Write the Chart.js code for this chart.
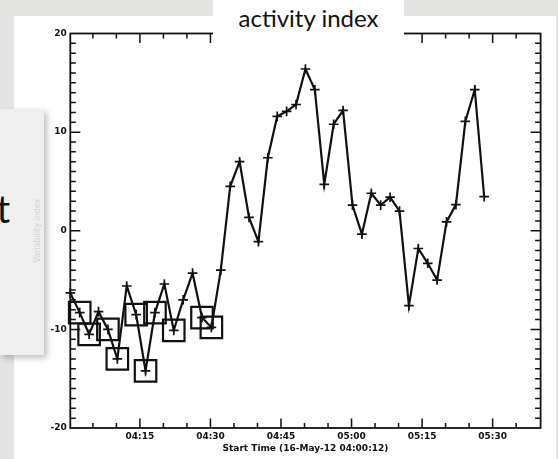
<!DOCTYPE html>
<html>
<head>
<meta charset="utf-8">
<script src="https://cdn.jsdelivr.net/npm/chart.js@4.4.0/dist/chart.umd.min.js"></script>
<style>
  html, body { margin: 0; padding: 0; }
  body { width: 558px; height: 459px; background: #e4e4e2; position: relative; overflow: hidden; }
  #sheet { position: absolute; left: 14px; top: 16px; width: 542px; height: 443px; background: #fff; }
  #side { position: absolute; left: 0; top: 109px; width: 44px; height: 246px; background: #efefef;
          box-shadow: 3px 3px 6px rgba(0,0,0,0.25); overflow: hidden; }
  #side span { position: absolute; right: 34px; top: 76px; font: 38px Lato, sans-serif; color: #111; }
  #canvas1 { position: absolute; left: 0; top: 0; }
  #label { position: absolute; left: 213px; top: 0; width: 191px; height: 42px; padding-top: 3px; background: #fff;
           text-align: center; font: 24px Lato, sans-serif; color: #111; }
</style>
</head>
<body>
<div id="sheet"></div>
<div id="side"><span>t</span></div>
<canvas id="canvas1" width="558" height="459"></canvas>
<div id="label">activity index</div>
<script>
// minutes after 04:00:12
var minutes = [0, 2, 4, 6, 8, 10, 12, 14, 16, 18, 20, 22, 24, 26, 28, 30, 32, 34, 36, 38, 40, 42,
  44, 46, 48, 50, 52, 54, 56, 58, 60, 62, 64, 66, 68, 70, 72, 74, 76, 78, 80, 82, 84, 86, 88];
var activity = [-6.3, -8.3, -10.5, -8.2, -10.0, -13.0, -5.6, -8.5, -14.2, -8.3, -5.4, -10.1, -7.0,
  -4.3, -8.8, -9.8, -4.0, 4.5, 7.0, 1.35, -1.1, 7.4, 11.6, 12.1, 12.8, 16.4, 14.3, 4.7, 10.8, 12.2,
  2.6, -0.35, 3.8, 2.6, 3.4, 2.0, -7.6, -1.8, -3.3, -5.0, 0.9, 2.65, 11.1, 14.3, 3.45];
// points marked with a box
var flagged = [1, 2, 4, 5, 7, 8, 9, 11, 14, 15];

var yTicks = [-20, -10, 0, 10, 20];
var xTickMinutes = [14.8, 29.8, 44.8, 59.8, 74.8, 89.8];
var xTickLabels = ['04:15', '04:30', '04:45', '05:00', '05:15', '05:30'];

var tickFont = { family: 'DejaVu Sans', size: 9, weight: 'bold' };

// IDL style frame: box plus inward ticks on all four sides
var idlFrame = {
  id: 'idlFrame',
  afterDraw: function(chart) {
    var ctx = chart.ctx, a = chart.chartArea;
    var xs = chart.scales.x, ys = chart.scales.y;
    ctx.save();
    ctx.strokeStyle = '#111';
    ctx.lineWidth = 1.8;
    ctx.strokeRect(a.left, a.top, a.right - a.left, a.bottom - a.top);
    ctx.lineWidth = 1.5;
    ctx.beginPath();
    for (var k = 0; k < 20; k++) {
      var px = xs.getPixelForValue(4.8 + 5 * k);
      if (px > a.right - 2) continue;
      var len = (k % 3 == 2) ? 9.5 : 5;
      ctx.moveTo(px, a.bottom); ctx.lineTo(px, a.bottom - len);
      ctx.moveTo(px, a.top); ctx.lineTo(px, a.top + len);
    }
    for (var v = -19; v <= 19; v++) {
      var py = ys.getPixelForValue(v);
      var l = (v % 10 == 0) ? 10 : 5.5;
      ctx.moveTo(a.left, py); ctx.lineTo(a.left + l, py);
      ctx.moveTo(a.right, py); ctx.lineTo(a.right - l, py);
    }
    ctx.stroke();
    ctx.restore();
  }
};

var series = minutes.map(function(m, i) { return { x: m, y: activity[i] }; });
var boxes = flagged.map(function(i) { return { x: minutes[i], y: activity[i] }; });

var ctx = document.getElementById('canvas1').getContext('2d');
window.myLine = new Chart(ctx, {
  type: 'line',
  data: {
    datasets: [{
      data: series,
      borderColor: '#111',
      borderWidth: 2.2,
      tension: 0,
      pointStyle: 'cross',
      pointRadius: 4.8,
      pointBorderWidth: 1.7,
      pointBorderColor: '#111',
      clip: false
    }, {
      data: boxes,
      showLine: false,
      pointStyle: 'rect',
      pointRadius: 15.2,
      pointBorderWidth: 2.2,
      pointBorderColor: '#111',
      pointBackgroundColor: 'rgba(0,0,0,0)',
      clip: false
    }]
  },
  options: {
    responsive: false,
    animation: false,
    layout: { padding: { top: 33.5, right: 16.6, bottom: 0, left: 0 } },
    plugins: { legend: { display: false }, tooltip: { enabled: false } },
    scales: {
      x: {
        type: 'linear', min: 0, max: 100,
        grid: { display: false, drawTicks: false },
        border: { display: false },
        afterBuildTicks: function(s) { s.ticks = xTickMinutes.map(function(v) { return { value: v }; }); },
        afterFit: function(s) { s.height = 31; },
        ticks: {
          color: '#111', font: tickFont, padding: 3, maxRotation: 0, autoSkip: false,
          callback: function(v, i) { return xTickLabels[i]; }
        },
        title: {
          display: true, text: 'Start Time (16-May-12 04:00:12)', color: '#111', font: tickFont,
          padding: { top: 0, bottom: 5 }
        }
      },
      y: {
        min: -20, max: 20,
        grid: { display: false, drawTicks: false },
        border: { display: false },
        afterBuildTicks: function(s) { s.ticks = yTicks.map(function(v) { return { value: v }; }); },
        afterFit: function(s) { s.width = 70.3; },
        ticks: { color: '#111', font: tickFont, padding: 3.5 },
        title: {
          display: true, text: 'Variability index', color: '#d2d2d2',
          font: { family: 'DejaVu Sans', size: 8 }, padding: { top: 32.7, bottom: 0 }
        }
      }
    }
  },
  plugins: [idlFrame]
});
</script>
</body>
</html>
